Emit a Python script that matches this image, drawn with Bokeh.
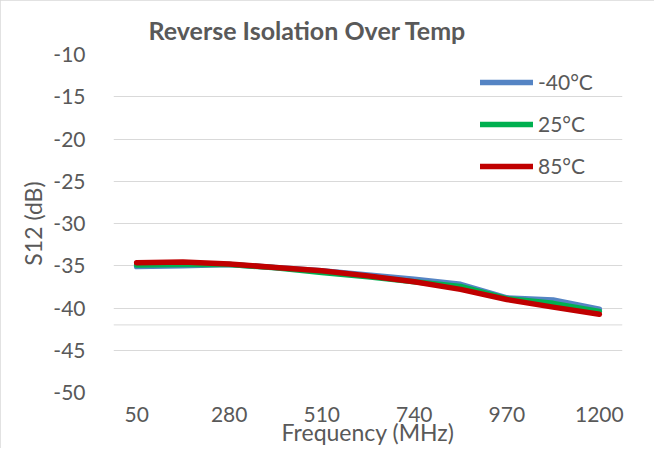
from bokeh.plotting import figure
from bokeh.models import FixedTicker, Legend, LegendItem, Span, Range1d, Title
from bokeh.embed import file_html
from bokeh.resources import INLINE

freq_mhz = [50, 165, 280, 395, 510, 625, 740, 855, 970, 1085, 1200]
s12_m40 = [-35.1, -35.0, -34.85, -35.2, -35.6, -36.1, -36.6, -37.2, -38.8, -39.05, -40.15]
s12_25 = [-34.9, -34.85, -34.85, -35.25, -35.8, -36.3, -36.9, -37.45, -38.9, -39.45, -40.4]
s12_85 = [-34.65, -34.55, -34.8, -35.2, -35.6, -36.2, -36.9, -37.8, -39.0, -39.9, -40.75]
x_tick_labels = [50, 280, 510, 740, 970, 1200]
y_ticks = [-50, -45, -40, -35, -30, -25, -20, -15, -10]
series_names = ["-40°C", "25°C", "85°C"]
series_colors = ["#5584C4", "#00B050", "#C00000"]
extra_rule = -42

FONT = "Lato"
GREY = "#595959"

p = figure(width=654, height=448, output_backend="svg", toolbar_location=None,
           x_range=Range1d(-7.5, 1257.5), y_range=Range1d(-50, -10),
           min_border_left=113, min_border_right=32, min_border_top=54, min_border_bottom=56)

p.title = Title(text="Reverse Isolation Over Temp", align="left", offset=35,
                text_font=FONT, text_font_size="25px", text_font_style="bold",
                text_color=GREY, standoff=20)

p.outline_line_color = None
p.styles = {"outline": "1px solid #D9D9D9", "outline-offset": "-1px"}

p.xgrid.visible = False
p.ygrid.grid_line_color = "#D9D9D9"
p.ygrid.grid_line_width = 1

p.xaxis.ticker = FixedTicker(ticks=x_tick_labels)
p.yaxis.ticker = FixedTicker(ticks=y_ticks)
p.yaxis.major_label_overrides = {t: str(t) for t in y_ticks}
for ax in (p.xaxis[0], p.yaxis[0]):
    ax.axis_line_color = None
    ax.major_tick_line_color = None
    ax.minor_tick_line_color = None
    ax.major_label_text_font = FONT
    ax.major_label_text_font_size = "21px"
    ax.major_label_text_color = GREY
    ax.axis_label_text_font = FONT
    ax.axis_label_text_font_size = "23px"
    ax.axis_label_text_color = GREY
    ax.axis_label_text_font_style = "normal"

p.xaxis.axis_label = "Frequency (MHz)"
p.yaxis.axis_label = "S12 (dB)"
p.xaxis.major_label_standoff = 8
p.xaxis.axis_label_standoff = -7
p.yaxis.major_label_standoff = 22
p.yaxis.axis_label_standoff = 3

p.add_layout(Span(location=extra_rule, dimension="width", line_color="#D9D9D9", line_width=1))

items = []
for name, vals, col in zip(series_names, [s12_m40, s12_25, s12_85], series_colors):
    r = p.line(freq_mhz, vals, line_color=col, line_width=5.5,
               line_cap="round", line_join="round")
    items.append(LegendItem(label=name, renderers=[r]))

legend = Legend(items=items, location=(367, 214), glyph_width=53, glyph_height=20,
                label_height=20, spacing=17, label_standoff=5, padding=0, margin=0,
                border_line_color=None, background_fill_alpha=0,
                label_text_font=FONT, label_text_font_size="21px", label_text_color=GREY)
p.add_layout(legend)

open("out.html", "w").write(file_html(p, INLINE))
